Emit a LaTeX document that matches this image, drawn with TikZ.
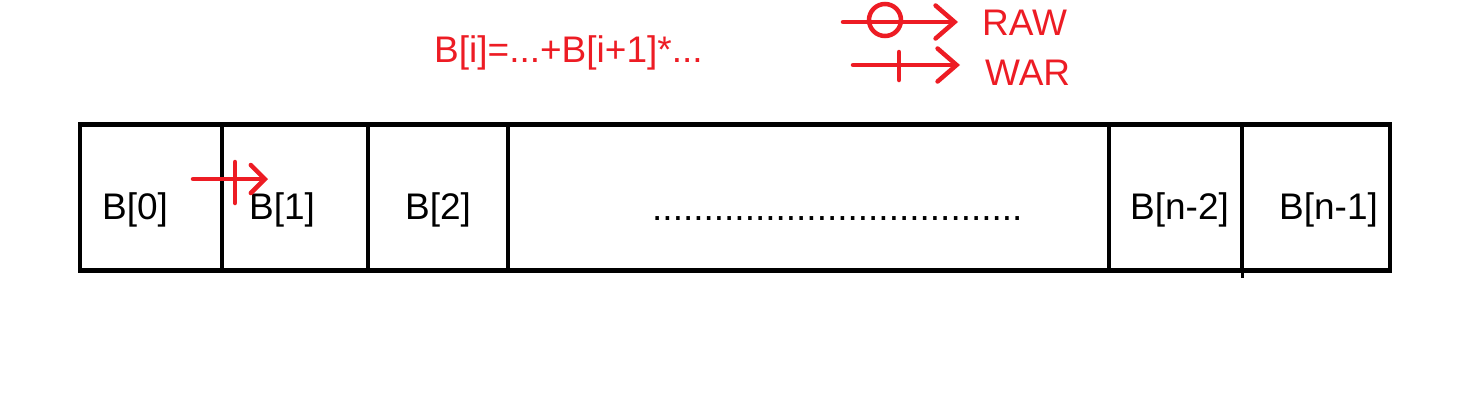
\documentclass[tikz,border=0pt]{standalone}
\usepackage{fontspec}
\setmainfont{Liberation Sans}
\usetikzlibrary{positioning}
\usetikzlibrary{arrows.meta}
\definecolor{paintred}{RGB}{237,28,36}

\begin{document}
\begin{tikzpicture}[
  x=1pt, y=-1pt,
  cell/.style={draw, line width=4.5pt, minimum height=146pt, inner sep=0pt, outer sep=0pt, anchor=west},
  txt/.style={anchor=base west, inner sep=0pt, font=\fontsize{37}{40}\selectfont},
  redtxt/.style={txt, text=paintred},
  redline/.style={draw=paintred, line width=4.5pt, line cap=round},
  redarrow/.style={redline, -{Straight Barb[length=19pt, width=33pt, line cap=round]}},
  smallarrow/.style={redline, -{Straight Barb[length=14pt, width=28pt, line cap=round]}}
]
\useasboundingbox (0,0) rectangle (1476,416);

% Cells
\node[cell, minimum width=142pt] (c0) at (80,197.5) {};
\node[cell, minimum width=146pt, right=0pt of c0] (c1) {};
\node[cell, minimum width=140pt, right=0pt of c1] (c2) {};
\node[cell, minimum width=601pt, right=0pt of c2] (c3) {};
\node[cell, minimum width=133pt, right=0pt of c3] (c4) {};
\node[cell, minimum width=148pt, right=0pt of c4] (c5) {};
\draw[line width=3pt] (c4.south east) -- ++(0,7);

% Labels
\node[txt] (l0) at (102,219) {B[0]};
\node[txt] (l1) at (249,219) {B[1]};
\node[txt] (l2) at (405,219) {B[2]};
\node[txt] (dots) at (652,220) {....................................};
\node[txt] (l4) at (1130,219) {B[n-2]};
\node[txt] (l5) at (1279,219) {B[n-1]};

% Formula and legend
\node[redtxt] (formula) at (434,62) {B[i]=...+B[i+1]*...};
\node[redtxt] (raw) at (982,35) {RAW};
\node[redtxt] (war) at (985,85) {WAR};

\coordinate (rawS) at (843,22);
\coordinate (rawE) at (958,22);
\draw[redarrow] (rawS) -- (rawE);
\node[draw=paintred, line width=4.5pt, circle, minimum size=32pt, inner sep=0pt] (rawC) at (885,20) {};

\coordinate (warS) at (853,65);
\coordinate (warE) at (960,65);
\coordinate (warT1) at (899,52);
\coordinate (warT2) at (899,80);
\draw[redarrow] (warS) -- (warE);
\draw[redline] (warT1) -- (warT2);

% WAR between B[0] and B[1]
\coordinate (depS) at (193,179);
\coordinate (depE) at (268,179);
\coordinate (depT1) at (235,162);
\coordinate (depT2) at (235,203);
\draw[smallarrow] (depS) -- (depE);
\draw[redline] (depT1) -- (depT2);

\end{tikzpicture}
\end{document}
